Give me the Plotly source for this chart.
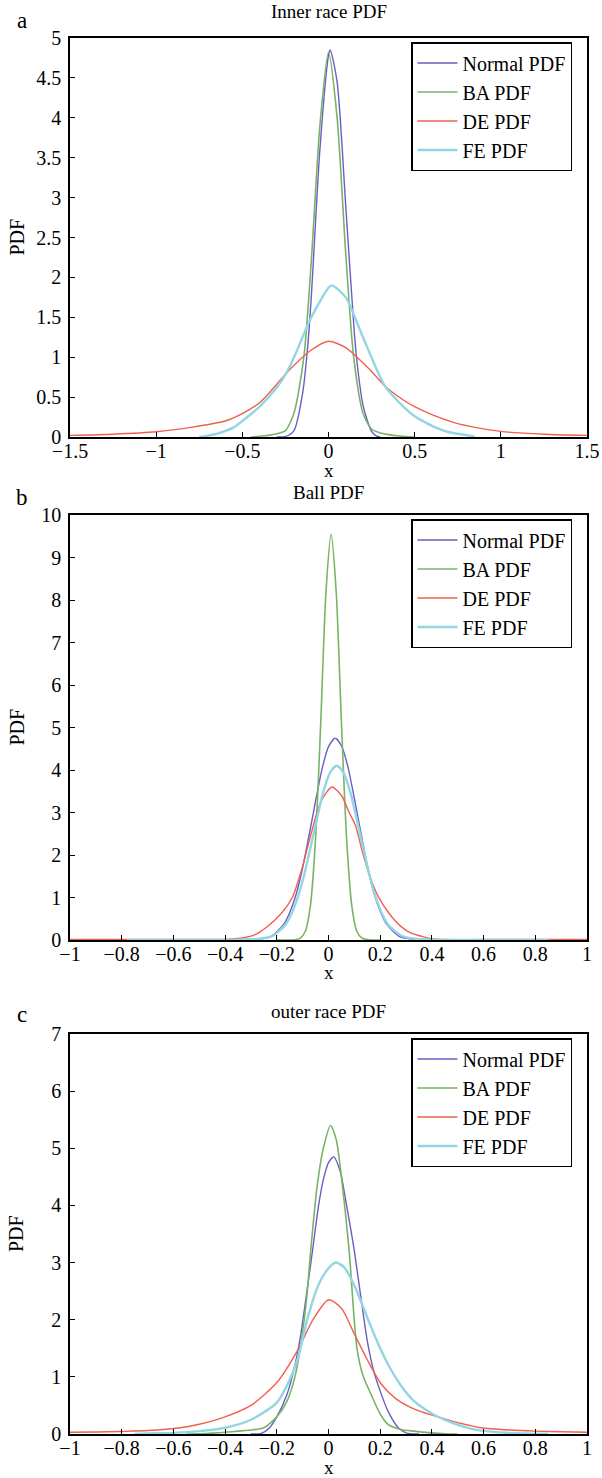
import plotly.graph_objects as go

# ---------------- Panel a: Inner race PDF ----------------
a_norm_x = [-0.3, -0.25, -0.2, -0.15, -0.12, -0.1, -0.05, 0.0, 0.01, 0.05, 0.1, 0.15, 0.17, 0.2, 0.25, 0.28, 0.3]
a_norm_y = [0.0, 0.005, 0.08, 0.55, 1.15, 1.75, 3.6, 4.78, 4.85, 4.45, 2.9, 1.3, 0.85, 0.4, 0.07, 0.01, 0.0]

a_ba_x = [-0.45, -0.4, -0.35, -0.3, -0.25, -0.2, -0.143, -0.1, -0.05, 0.0, 0.05, 0.1, 0.146, 0.2, 0.25, 0.3, 0.35, 0.4, 0.45, 0.5]
a_ba_y = [0.0, 0.01, 0.02, 0.04, 0.08, 0.3, 1.0, 2.2, 3.9, 4.82, 4.0, 2.3, 1.0, 0.3, 0.1, 0.05, 0.03, 0.015, 0.005, 0.0]

a_de_x = [-1.5, -1.25, -1.0, -0.8, -0.6, -0.495, -0.4, -0.3, -0.245, -0.2, -0.1, 0.0, 0.1, 0.2, 0.25, 0.327, 0.43, 0.5, 0.6, 0.73, 0.85, 1.0, 1.25, 1.5]
a_de_y = [0.02, 0.035, 0.065, 0.12, 0.2, 0.3, 0.43, 0.66, 0.8, 0.9, 1.09, 1.2, 1.12, 0.93, 0.82, 0.64, 0.47, 0.38, 0.28, 0.18, 0.12, 0.07, 0.035, 0.02]

a_fe_x = [-0.75, -0.65, -0.55, -0.5, -0.4, -0.3, -0.245, -0.2, -0.1, 0.0, 0.02, 0.1, 0.2, 0.327, 0.43, 0.5, 0.63, 0.7, 0.81, 0.85]
a_fe_y = [0.0, 0.04, 0.12, 0.2, 0.38, 0.62, 0.8, 1.0, 1.5, 1.87, 1.9, 1.75, 1.25, 0.64, 0.39, 0.26, 0.11, 0.06, 0.02, 0.0]

# ---------------- Panel b: Ball PDF ----------------
b_norm_x = [-0.324, -0.274, -0.224, -0.174, -0.149, -0.124, -0.099, -0.074, -0.049, -0.024, 0.001, 0.026, 0.051, 0.076, 0.101, 0.126, 0.151, 0.176, 0.201, 0.226, 0.276, 0.326, 0.376]
b_norm_y = [0.0, 0.014, 0.08, 0.36, 0.66, 1.1, 1.73, 2.5, 3.3, 4.05, 4.56, 4.75, 4.56, 4.05, 3.3, 2.5, 1.73, 1.1, 0.66, 0.36, 0.08, 0.014, 0.0]

b_ba_x = [-0.2, -0.13, -0.11, -0.09, -0.07, -0.05, -0.03, -0.01, 0.01, 0.03, 0.05, 0.07, 0.09, 0.11, 0.13, 0.16, 0.2]
b_ba_y = [0.0, 0.003, 0.04, 0.2, 0.81, 2.39, 5.12, 8.17, 9.55, 8.17, 5.12, 2.39, 0.81, 0.2, 0.04, 0.005, 0.0]

b_de_x = [-1.0, -0.6, -0.4, -0.34, -0.286, -0.24, -0.182, -0.14, -0.104, -0.065, -0.03, 0.013, 0.05, 0.08, 0.104, 0.13, 0.156, 0.19, 0.234, 0.28, 0.32, 0.364, 0.4, 0.45, 0.6, 1.0]
b_de_y = [0.01, 0.01, 0.015, 0.04, 0.12, 0.3, 0.63, 1.0, 1.65, 2.55, 3.25, 3.6, 3.4, 3.0, 2.7, 2.1, 1.57, 1.05, 0.63, 0.32, 0.16, 0.08, 0.03, 0.01, 0.01, 0.01]

b_fe_x = [-0.78, -0.4, -0.32, -0.268, -0.218, -0.168, -0.143, -0.118, -0.093, -0.068, -0.043, -0.018, 0.007, 0.032, 0.057, 0.082, 0.107, 0.132, 0.157, 0.182, 0.207, 0.232, 0.282, 0.332, 0.4, 0.85]
b_fe_y = [0.0, 0.003, 0.015, 0.03, 0.09, 0.35, 0.62, 1.02, 1.56, 2.22, 2.9, 3.53, 3.95, 4.1, 3.95, 3.53, 2.9, 2.22, 1.56, 1.02, 0.62, 0.35, 0.1, 0.03, 0.008, 0.0]

# ---------------- Panel c: outer race PDF ----------------
c_norm_x = [-0.3, -0.26, -0.23, -0.2, -0.16, -0.13, -0.107, -0.085, -0.062, -0.04, -0.02, 0.0, 0.02, 0.045, 0.07, 0.1, 0.125, 0.15, 0.175, 0.2, 0.23, 0.27, 0.3, 0.35]
c_norm_y = [0.0, 0.01, 0.1, 0.3, 0.7, 1.2, 1.75, 2.45, 3.2, 3.95, 4.45, 4.75, 4.85, 4.6, 4.0, 3.2, 2.4, 1.63, 1.1, 0.75, 0.4, 0.11, 0.02, 0.0]

c_ba_x = [-0.55, -0.5, -0.45, -0.4, -0.35, -0.3, -0.25, -0.2, -0.16, -0.13, -0.107, -0.085, -0.069, -0.045, -0.02, 0.008, 0.03, 0.055, 0.08, 0.11, 0.135, 0.164, 0.2, 0.23, 0.28, 0.33, 0.4, 0.45, 0.5]
c_ba_y = [0.0, 0.005, 0.015, 0.03, 0.05, 0.07, 0.11, 0.3, 0.58, 1.0, 1.57, 2.35, 3.2, 4.3, 5.0, 5.4, 5.15, 4.3, 3.2, 1.5, 1.0, 0.7, 0.35, 0.17, 0.08, 0.05, 0.02, 0.005, 0.0]

c_de_x = [-1.0, -0.9, -0.8, -0.7, -0.573, -0.5, -0.406, -0.3, -0.2, -0.12, -0.06, 0.0, 0.05, 0.1, 0.15, 0.203, 0.26, 0.33, 0.4, 0.46, 0.5, 0.59, 0.7, 0.8, 0.9, 1.0]
c_de_y = [0.03, 0.035, 0.045, 0.06, 0.11, 0.17, 0.29, 0.5, 0.9, 1.46, 2.0, 2.35, 2.2, 1.75, 1.3, 0.88, 0.62, 0.44, 0.33, 0.25, 0.2, 0.11, 0.07, 0.05, 0.04, 0.03]

c_fe_x = [-0.75, -0.7, -0.6, -0.5, -0.4, -0.3, -0.2, -0.15, -0.12, -0.08, -0.04, 0.0, 0.028, 0.06, 0.1, 0.15, 0.19, 0.23, 0.28, 0.33, 0.4, 0.46, 0.52, 0.59, 0.7, 0.8, 0.85]
c_fe_y = [0.0, 0.01, 0.02, 0.05, 0.11, 0.25, 0.55, 0.95, 1.3, 2.04, 2.6, 2.9, 3.0, 2.92, 2.6, 2.04, 1.6, 1.22, 0.85, 0.58, 0.36, 0.23, 0.13, 0.06, 0.02, 0.005, 0.0]

series_names = ["Normal PDF", "BA PDF", "DE PDF", "FE PDF"]
series_colors = ["#6a5ec4", "#78b466", "#f0604e", "#92d5e3"]
series_widths = [1.4, 1.6, 1.4, 2.4]

panel_titles = ["Inner race PDF", "Ball PDF", "outer race PDF"]
panel_letters = ["a", "b", "c"]

panels = [
    [(a_norm_x, a_norm_y), (a_ba_x, a_ba_y), (a_de_x, a_de_y), (a_fe_x, a_fe_y)],
    [(b_norm_x, b_norm_y), (b_ba_x, b_ba_y), (b_de_x, b_de_y), (b_fe_x, b_fe_y)],
    [(c_norm_x, c_norm_y), (c_ba_x, c_ba_y), (c_de_x, c_de_y), (c_fe_x, c_fe_y)],
]

x_ranges = [[-1.5, 1.5], [-1, 1], [-1, 1]]
x_dticks = [0.5, 0.2, 0.2]
y_ranges = [[0, 5], [0, 10], [0, 7]]
y_dticks = [0.5, 1, 1]

W, H = 602, 1478
boxes = [(38, 437), (515, 940), (1034, 1434)]
x_left, x_right = 70, 587
title_y = [12, 492, 1012]
letter_y = [20, 497, 1014]
xlabel_y = [470, 973, 1467]

FONT = "Liberation Serif"

fig = go.Figure()
for p, curves in enumerate(panels):
    ax = "" if p == 0 else str(p + 1)
    leg = "legend" if p == 0 else f"legend{p + 1}"
    for i, (xs, ys) in enumerate(curves):
        fig.add_trace(go.Scatter(
            x=xs, y=ys, mode="lines", name=series_names[i],
            line=dict(color=series_colors[i], width=series_widths[i], shape="spline", smoothing=0.7),
            xaxis="x" + ax, yaxis="y" + ax, legend=leg, showlegend=True,
        ))

layout = dict(
    width=W, height=H, margin=dict(l=0, r=0, t=0, b=0),
    paper_bgcolor="white", plot_bgcolor="white",
    font=dict(family=FONT, size=19, color="black"),
)

annotations = []
for p in range(3):
    ax = "" if p == 0 else str(p + 1)
    top, bot = boxes[p]
    y0 = 1 - bot / H
    y1 = 1 - top / H
    common = dict(showgrid=False, zeroline=False, showline=True, linecolor="black", linewidth=1.5,
                  mirror=True, ticks="inside", ticklen=5, tickwidth=1.2, tickcolor="black",
                  automargin=False,
                  tickfont=dict(family=FONT, size=20, color="black"))
    layout["xaxis" + ax] = dict(domain=[x_left / W, x_right / W], range=x_ranges[p], dtick=x_dticks[p],
                                tick0=x_ranges[p][0], anchor="y" + ax, ticklabeloverflow="allow",
                                ticklabelstandoff=-5, **common)
    layout["yaxis" + ax] = dict(domain=[y0, y1], range=y_ranges[p], dtick=y_dticks[p], tick0=0,
                                anchor="x" + ax, ticklabelstandoff=3, **common)
    leg = "legend" if p == 0 else f"legend{p + 1}"
    layout[leg] = dict(x=411 / W, y=1 - (top + 4) / H, xanchor="left", yanchor="top",
                       bgcolor="white", bordercolor="black", borderwidth=1.5,
                       font=dict(family=FONT, size=20, color="black"), tracegroupgap=0,
                       itemwidth=40)
    annotations.append(dict(text=panel_titles[p], x=(x_left + x_right) / 2 / W, y=1 - title_y[p] / H,
                            xref="paper", yref="paper", showarrow=False,
                            font=dict(family=FONT, size=19, color="black"), yanchor="middle"))
    annotations.append(dict(text=panel_letters[p], x=22 / W, y=1 - letter_y[p] / H,
                            xref="paper", yref="paper", showarrow=False, xanchor="center",
                            font=dict(family=FONT, size=23, color="black"), yanchor="middle"))
    annotations.append(dict(text="x", x=(x_left + x_right) / 2 / W, y=1 - xlabel_y[p] / H,
                            xref="paper", yref="paper", showarrow=False,
                            font=dict(family=FONT, size=19, color="black"), yanchor="middle"))
    annotations.append(dict(text="PDF", x=16 / W, y=1 - (top + bot) / 2 / H, textangle=-90,
                            xref="paper", yref="paper", showarrow=False,
                            font=dict(family=FONT, size=20, color="black"),
                            xanchor="center", yanchor="middle"))
layout["annotations"] = annotations
fig.update_layout(**layout)
fig.write_html("out.html", config={"displayModeBar": False},
               post_script="document.body.style.margin='0';document.body.style.padding='0';")
